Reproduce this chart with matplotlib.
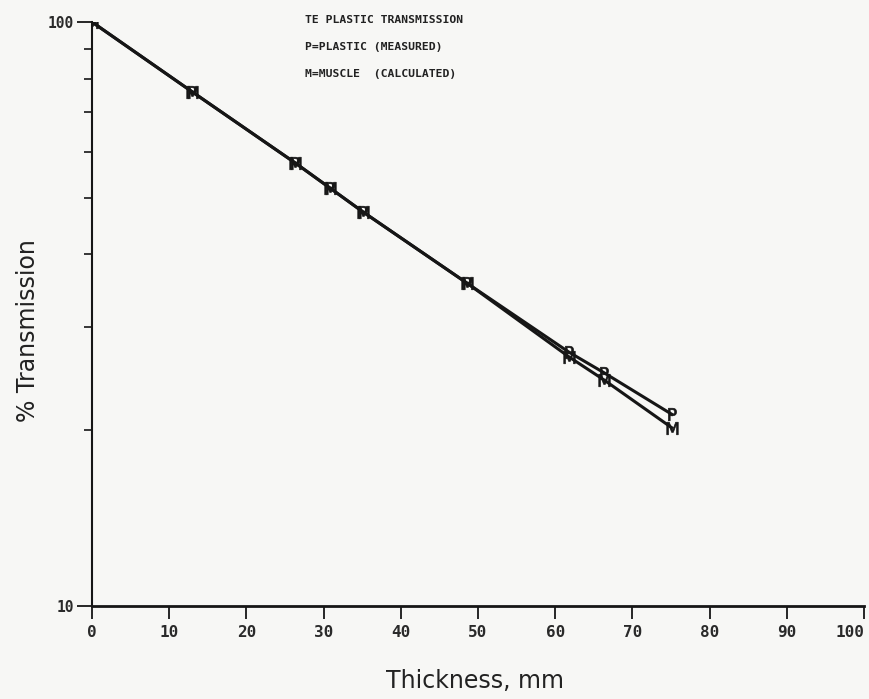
import matplotlib.pyplot as plt
import matplotlib.ticker as mticker

# thickness in mm and % transmission
thickness = [0, 13.0, 26.3, 30.8, 35.1, 48.6, 61.8, 66.3, 75.1]
plastic = [100, 75.9, 57.4, 52.0, 47.3, 35.7, 27.2, 25.1, 21.3]
muscle = [100, 75.9, 57.4, 52.0, 47.3, 35.7, 26.7, 24.4, 20.2]

title_lines = ['TE PLASTIC TRANSMISSION', 'P=PLASTIC (MEASURED)', 'M=MUSCLE  (CALCULATED)']
x_ticks = list(range(0, 101, 10))

mono = 'DejaVu Sans Mono'
bg = '#f7f7f5'
ink = '#161616'

fig = plt.figure(figsize=(8.69, 6.99), dpi=100, facecolor=bg)
ax = fig.add_axes([0.1059, 0.133, 0.8883, 0.8355], facecolor=bg)

ax.plot(thickness, plastic, color=ink, lw=2.2, marker=r'$\mathrm{P}$', ms=9, mew=0.5)
ax.plot(thickness, muscle, color=ink, lw=2.2, marker=r'$\mathrm{M}$', ms=9, mew=0.5)

ax.set_yscale('log')
ax.set_xlim(0, 100)
ax.set_ylim(10, 100)

ax.spines['top'].set_visible(False)
ax.spines['right'].set_visible(False)
ax.spines['left'].set_linewidth(1.5)
ax.spines['bottom'].set_linewidth(2.0)
ax.spines['left'].set_color(ink)
ax.spines['bottom'].set_color(ink)

ax.set_xticks(x_ticks)
ax.set_xticklabels([str(t) for t in x_ticks], fontfamily=mono, fontsize=11.5,
                   color='#2a2a2a', fontweight='bold')
ax.get_xticklabels()[-1].set_horizontalalignment('right')
ax.get_xticklabels()[-1].set_x(100.3)
ax.yaxis.set_major_locator(mticker.FixedLocator([10, 100]))
ax.yaxis.set_major_formatter(mticker.FixedFormatter(['10', '100']))
ax.yaxis.set_minor_locator(mticker.FixedLocator([20, 30, 40, 50, 60, 70, 80, 90]))
ax.yaxis.set_minor_formatter(mticker.NullFormatter())
for lab in ax.get_yticklabels():
    lab.set_fontfamily(mono)
    lab.set_fontsize(10.5)
    lab.set_fontweight('bold')
    lab.set_color('#2a2a2a')

ax.tick_params(axis='x', direction='out', length=9.5, width=1.3, pad=4, color=ink)
ax.tick_params(axis='y', which='major', direction='out', length=11, width=1.3, pad=2, color=ink)
ax.tick_params(axis='y', which='minor', direction='out', length=6, width=1.2, color=ink)

ax.set_xlabel('Thickness, mm', fontsize=17, color='#222222')
ax.set_ylabel('% Transmission', fontsize=17, color='#222222')
ax.xaxis.set_label_coords(0.496, -0.107)
ax.yaxis.set_label_coords(-0.067, 0.472)

for i, line in enumerate(title_lines):
    ax.text(0.276, 1.012 - i * 0.0465, line, transform=ax.transAxes,
            fontfamily=mono, fontsize=8.2, fontweight='bold', va='top', ha='left',
            color='#222222')

fig.savefig('out.png', dpi=100, facecolor=bg)
